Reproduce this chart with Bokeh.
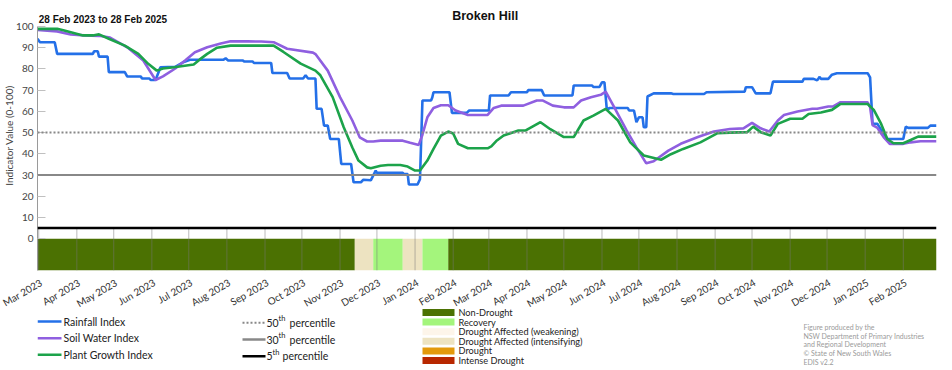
import pandas as pd
from math import pi
from bokeh.plotting import figure
from bokeh.layouts import column
from bokeh.models import Range1d, FixedTicker, DatetimeTickFormatter, Label, Span
from bokeh.core.properties import value
from bokeh.embed import file_html
from bokeh.resources import INLINE

FONT = "Lato"

# ---------------- data ----------------
rain_dates = ["2023-02-28","2023-03-02","2023-03-14","2023-03-16","2023-04-14","2023-04-15","2023-04-18","2023-04-19",
              "2023-04-26","2023-04-27","2023-05-10","2023-05-12","2023-05-23","2023-05-24","2023-05-30","2023-05-31",
              "2023-06-04","2023-06-08","2023-06-20","2023-06-27","2023-07-02","2023-07-29","2023-07-31","2023-08-02",
              "2023-08-14","2023-08-15","2023-08-22","2023-08-23","2023-09-06","2023-09-07","2023-09-19","2023-09-21",
              "2023-10-02","2023-10-04","2023-10-06","2023-10-12","2023-10-13","2023-10-17","2023-10-19","2023-10-22",
              "2023-10-24","2023-10-31","2023-11-02","2023-11-10","2023-11-12","2023-11-18","2023-11-20","2023-11-26",
              "2023-11-30","2023-12-01","2023-12-22","2023-12-23","2023-12-26","2023-12-27","2024-01-03","2024-01-05",
              "2024-01-07","2024-01-14","2024-01-15","2024-01-16","2024-01-29","2024-01-31","2024-02-12","2024-02-14",
              "2024-03-01","2024-03-02","2024-03-17","2024-03-19","2024-04-01","2024-04-02","2024-04-13","2024-04-15",
              "2024-05-08","2024-05-09","2024-05-24","2024-05-25","2024-05-30","2024-06-01","2024-06-03","2024-06-05",
              "2024-06-07","2024-06-22","2024-06-23","2024-06-27","2024-06-29","2024-07-01","2024-07-04","2024-07-05",
              "2024-07-07","2024-07-08","2024-07-13","2024-07-27","2024-07-29","2024-08-23","2024-08-25","2024-09-25",
              "2024-09-26","2024-10-01","2024-10-04","2024-10-16","2024-10-18","2024-11-11","2024-11-12","2024-11-20",
              "2024-11-23","2024-11-25","2024-11-26","2024-12-02","2024-12-05","2024-12-09","2025-01-03","2025-01-05",
              "2025-01-07","2025-01-11","2025-01-16","2025-01-19","2025-02-01","2025-02-03","2025-02-05","2025-02-21",
              "2025-02-23","2025-02-28"]
rain_vals = [94.2,92.6,92.6,87.1,87.1,88.3,88.3,85.8,
             85.8,78.5,78.5,76.4,76.4,75.5,75.5,74.8,
             74.8,80.8,81.0,83.3,84.3,84.3,85.0,84.0,
             84.0,83.5,83.5,82.8,82.8,78.1,78.1,75.5,
             75.5,77.0,75.5,75.5,61.2,61.2,53.3,53.3,
             47.0,47.0,35.2,35.2,26.6,26.6,27.8,27.5,
             32.1,31.0,31.0,30.4,30.4,25.5,25.5,28.0,
             65.1,65.1,66.5,69.0,69.0,59.3,59.3,60.4,
             60.4,67.5,67.5,69.0,69.0,70.0,70.0,67.5,
             67.5,72.2,72.2,71.5,71.5,73.7,73.7,60.4,
             61.6,61.6,60.4,60.4,54.9,57.2,57.2,52.5,
             52.5,67.0,68.5,68.5,68.2,68.2,69.0,69.3,
             71.4,71.4,68.5,68.5,74.0,74.0,75.3,75.3,
             74.6,76.3,75.3,75.3,77.3,78.0,78.0,76.0,
             54.1,54.1,49.4,47.0,47.0,52.8,52.2,52.2,
             53.3,53.3]

soil_dates = ["2023-02-28","2023-03-16","2023-03-27","2023-04-07","2023-04-19","2023-04-28","2023-05-12","2023-05-25",
              "2023-06-04","2023-06-10","2023-06-20","2023-06-28","2023-07-06","2023-07-16","2023-07-27","2023-08-04",
              "2023-08-18","2023-08-29","2023-09-08","2023-09-19","2023-10-10","2023-10-12","2023-10-22","2023-11-01",
              "2023-11-11","2023-11-17","2023-11-23","2023-11-28","2023-12-04","2023-12-22","2023-12-28","2024-01-04",
              "2024-01-07","2024-01-11","2024-01-16","2024-01-22","2024-01-28","2024-02-03","2024-02-13","2024-02-29",
              "2024-03-05","2024-03-11","2024-03-29","2024-04-09","2024-04-14","2024-04-22","2024-05-01","2024-05-09",
              "2024-05-15","2024-05-23","2024-05-31","2024-06-04","2024-06-11","2024-06-21","2024-06-29","2024-07-07",
              "2024-07-13","2024-07-25","2024-08-04","2024-08-18","2024-08-31","2024-09-13","2024-09-24","2024-10-01",
              "2024-10-08","2024-10-15","2024-10-22","2024-10-27","2024-11-07","2024-11-19","2024-11-23","2024-12-02",
              "2024-12-06","2024-12-12","2025-01-03","2025-01-05","2025-01-07","2025-01-11","2025-01-16","2025-01-21",
              "2025-02-01","2025-02-07","2025-02-15","2025-02-28"]
soil_vals = [98.4,97.7,96.2,95.8,95.6,94.8,90.2,84.0,
             74.8,76.5,80.2,84.0,87.9,90.2,92.0,93.0,
             93.0,92.9,92.6,89.5,87.7,87.0,79.2,66.7,
             55.7,47.8,45.8,45.8,46.2,46.2,45.2,44.2,
             49.0,57.2,61.6,62.9,62.9,60.4,58.3,58.3,
             61.6,62.7,62.7,65.1,65.1,62.7,61.9,61.9,
             65.1,66.7,67.8,69.3,61.9,51.0,43.0,35.5,
             36.5,41.5,44.7,47.9,50.5,51.7,52.0,54.6,
             52.0,50.5,55.7,58.3,59.9,61.2,61.2,62.3,
             62.3,64.3,64.3,62.0,53.5,52.2,47.9,44.7,
             44.7,45.4,45.9,45.9]

plant_dates = ["2023-02-28","2023-03-16","2023-03-21","2023-04-06","2023-04-14","2023-04-19","2023-04-27","2023-05-10",
               "2023-05-21","2023-05-29","2023-06-05","2023-06-10","2023-06-19","2023-07-05","2023-07-10","2023-07-16",
               "2023-07-24","2023-08-04","2023-09-08","2023-09-16","2023-09-30","2023-10-12","2023-10-16","2023-10-26",
               "2023-11-04","2023-11-11","2023-11-16","2023-11-23","2023-11-26","2023-12-04","2023-12-10","2023-12-20",
               "2023-12-26","2024-01-01","2024-01-05","2024-01-11","2024-01-16","2024-01-22","2024-01-28","2024-02-01",
               "2024-02-05","2024-02-13","2024-02-29","2024-03-03","2024-03-07","2024-03-13","2024-03-25","2024-03-31",
               "2024-04-12","2024-04-20","2024-05-01","2024-05-09","2024-05-17","2024-05-25","2024-06-04","2024-06-14",
               "2024-06-24","2024-07-05","2024-07-19","2024-07-27","2024-08-06","2024-08-20","2024-09-03","2024-09-13",
               "2024-09-27","2024-10-02","2024-10-08","2024-10-16","2024-10-22","2024-11-01","2024-11-11","2024-11-16",
               "2024-11-26","2024-12-05","2024-12-12","2025-01-03","2025-01-08","2025-01-14","2025-01-19","2025-01-24",
               "2025-02-01","2025-02-07","2025-02-13","2025-02-28"]
plant_vals = [98.9,98.9,98.2,95.8,95.8,96.3,94.2,91.0,
              87.1,82.4,79.2,80.2,80.8,82.1,84.5,87.1,
              90.0,91.0,91.0,88.0,82.5,79.2,77.0,66.7,
              52.5,43.0,36.8,33.6,33.2,34.4,34.7,34.7,
              34.0,32.1,32.1,36.8,42.3,48.6,50.5,49.6,
              44.7,42.6,42.6,43.5,46.0,48.6,51.0,51.0,
              54.9,51.6,47.9,47.9,55.7,58.0,61.2,55.7,
              45.4,39.2,37.2,39.8,42.3,45.4,49.7,50.0,
              50.2,52.8,50.2,48.6,54.1,56.5,56.5,58.8,
              59.5,60.7,63.5,63.5,60.7,54.1,47.0,45.0,
              45.0,46.5,48.1,48.1]

drought_start = ["2023-02-28","2023-11-13","2023-11-28","2023-12-22","2024-01-07","2024-01-28"]
drought_end   = ["2023-11-13","2023-11-28","2023-12-22","2024-01-07","2024-01-28","2025-02-28"]
drought_cat   = ["Non-Drought","Drought Affected (intensifying)","Recovery",
                 "Drought Affected (intensifying)","Recovery","Non-Drought"]

categories = ["Non-Drought","Recovery","Drought Affected (weakening)",
              "Drought Affected (intensifying)","Drought","Intense Drought"]
cat_colors = ["#4b7102","#a4f57c","#fdf5ea","#ede3c1","#e39a0c","#b82700"]

series_names = ["Rainfall Index","Soil Water Index","Plant Growth Index"]
series_colors = ["#2470e8","#8f5fe0","#1ca34a"]

percentiles = [50, 30, 5]
pct_labels = ["50","30","5"]
pct_colors = ["#888888","#888888","#000000"]

y_ticks = list(range(0, 101, 10))
x_start, x_end = "2023-02-28", "2025-02-28"
month_ticks = list(pd.date_range("2023-03-01", "2025-02-01", freq="MS"))
month_labels = ["Mar 2023","Apr 2023","May 2023","Jun 2023","Jul 2023","Aug 2023","Sep 2023","Oct 2023",
                "Nov 2023","Dec 2023","Jan 2024","Feb 2024","Mar 2024","Apr 2024","May 2024","Jun 2024",
                "Jul 2024","Aug 2024","Sep 2024","Oct 2024","Nov 2024","Dec 2024","Jan 2025","Feb 2025"]

credits = ["Figure produced by the",
           "NSW Department of Primary Industries",
           "and Regional Development",
           "\u00a9 State of New South Wales",
           "EDIS v2.2"]

# ---------------- main figure ----------------
td = lambda s: pd.to_datetime(s)
PX_PER_UNIT = 244 / 115.0             # plot band 100 .. -15
y_top = 100 + 26 / PX_PER_UNIT        # head room for the titles
MAIN_H = 321
p = figure(width=952, height=MAIN_H, x_axis_type="datetime",
           x_range=Range1d(td(x_start), td(x_end)), y_range=Range1d(-15, y_top),
           output_backend="svg", toolbar_location=None, title=None,
           min_border_left=37, min_border_right=16, min_border_top=0, min_border_bottom=MAIN_H - 270)
p.outline_line_color = None
p.grid.visible = False

color_map = dict(zip(categories, cat_colors))
p.quad(left=[td(s) for s in drought_start], right=[td(s) for s in drought_end],
       bottom=-15, top=0, color=[color_map[c] for c in drought_cat], line_width=0)

p.segment(x0=month_ticks, y0=-15, x1=month_ticks, y1=5,
          line_color="#777777", line_alpha=0.5, line_width=1)

for d, v, c in [(rain_dates, rain_vals, series_colors[0]),
                (soil_dates, soil_vals, series_colors[1]),
                (plant_dates, plant_vals, series_colors[2])]:
    p.line([td(s) for s in d], v, line_color=c, line_width=2.6)

p.add_layout(Span(location=percentiles[0], dimension="width", line_color=pct_colors[0],
                  line_width=2, line_dash="2 2"))
p.add_layout(Span(location=percentiles[1], dimension="width", line_color=pct_colors[1], line_width=2))
p.add_layout(Span(location=percentiles[2], dimension="width", line_color=pct_colors[2], line_width=2.5))

ya = p.yaxis[0]
ya.ticker = FixedTicker(ticks=y_ticks)
ya.bounds = (-15, 100)
ya.major_tick_in = 8
ya.major_tick_out = 0
ya.major_tick_line_color = "#c0c0c0"
ya.minor_tick_line_color = None
ya.axis_line_color = "#9a9a9a"
ya.major_label_standoff = 4
ya.major_label_text_font = FONT
ya.major_label_text_font_size = "10px"
ya.major_label_text_color = "#444444"
ya.axis_label = "Indicator Value (0-100)"
ya.axis_label_standoff = -2
ya.axis_label_text_font = FONT
ya.axis_label_text_font_style = "normal"
ya.axis_label_text_font_size = "10px"
ya.axis_label_text_color = "#444444"

# month labels sit with their upper end just right of each month line
label_shift = pd.Timedelta(days=2)
label_pos = [int((t + label_shift).value // 10**6) for t in month_ticks]
xa = p.xaxis[0]
xa.ticker = FixedTicker(ticks=label_pos)
xa.formatter = DatetimeTickFormatter(days="%b %Y", months="%b %Y", years="%b %Y")
xa.major_label_overrides = dict(zip(label_pos, month_labels))
xa.major_label_orientation = pi / 6
xa.axis_line_color = None
xa.major_tick_line_color = None
xa.minor_tick_line_color = None
xa.major_tick_in = 0
xa.major_tick_out = 0
xa.major_label_standoff = 11
xa.major_label_text_font = FONT
xa.major_label_text_font_size = "10px"
xa.major_label_text_color = "#333333"

p.add_layout(Label(x=td("2024-02-27"), y=100 + 11 / PX_PER_UNIT, text="Broken Hill", text_align="center",
                   text_baseline="middle", text_font="Liberation Sans", text_font_style="bold",
                   text_font_size="12.5px", text_color="#111111"))
p.add_layout(Label(x=td("2023-03-01"), y=100 + 7 / PX_PER_UNIT, text="28 Feb 2023 to 28 Feb 2025",
                   text_align="left", text_baseline="middle", text_font="Liberation Sans",
                   text_font_style="bold", text_font_size="10px", text_color="#111111"))

# ---------------- legend figure ----------------
LH = 62
LEG_TOP = 308
lf = figure(width=952, height=LH, x_range=Range1d(37, 936), y_range=Range1d(LH, 0),
            output_backend="svg", toolbar_location=None, x_axis_location=None, y_axis_location=None,
            min_border_left=37, min_border_right=16, min_border_top=0, min_border_bottom=0, title=None,
            margin=(LEG_TOP - MAIN_H, 0, 0, 0))
lf.outline_line_color = None
lf.grid.visible = False
lf.background_fill_alpha = 0
lf.border_fill_alpha = 0

ly_series = [13, 29.7, 46.3]
lf.segment(x0=[37] * 3, y0=ly_series, x1=[61] * 3, y1=ly_series, line_color=series_colors, line_width=2.6)
lf.text(x=[63] * 3, y=ly_series, text=series_names, text_baseline="middle",
        text_font=value(FONT), text_font_size="10.5px", text_color="#222222")

ly_pct = [14.3, 31, 47.7]
lf.segment(x0=[242], y0=[ly_pct[0]], x1=[264], y1=[ly_pct[0]], line_color=pct_colors[0],
           line_width=2, line_dash="2 2")
lf.segment(x0=[242], y0=[ly_pct[1]], x1=[265], y1=[ly_pct[1]], line_color=pct_colors[1], line_width=2.5)
lf.segment(x0=[242], y0=[ly_pct[2]], x1=[265], y1=[ly_pct[2]], line_color=pct_colors[2], line_width=2.5)
num_x = [266, 266, 266]
th_x = [278, 278, 272]
pc_x = [289, 289, 282]
lf.text(x=num_x, y=ly_pct, text=pct_labels, text_baseline="middle",
        text_font=value(FONT), text_font_size="10.5px", text_color="#222222")
lf.text(x=th_x, y=[v - 4 for v in ly_pct], text=["th"] * 3, text_baseline="middle",
        text_font=value(FONT), text_font_size="7.5px", text_color="#222222")
lf.text(x=pc_x, y=ly_pct, text=["percentile"] * 3, text_baseline="middle",
        text_font=value(FONT), text_font_size="10.5px", text_color="#222222")

ly_cat = [4 + 9.6 * i for i in range(len(categories))]
lf.rect(x=[438] * len(categories), y=ly_cat, width=32, height=7, fill_color=cat_colors, line_width=0)
lf.text(x=[458] * len(categories), y=ly_cat, text=categories, text_baseline="middle",
        text_font=value(FONT), text_font_size="9.2px", text_color="#222222")

lf.text(x=[803] * len(credits), y=[18.7 + 8.6 * i for i in range(len(credits))], text=credits,
        text_baseline="middle", text_font=value(FONT), text_font_size="7px", text_color="#9a9a9a")

layout = column(p, lf, spacing=0)
open("out.html", "w").write(file_html(layout, INLINE))
